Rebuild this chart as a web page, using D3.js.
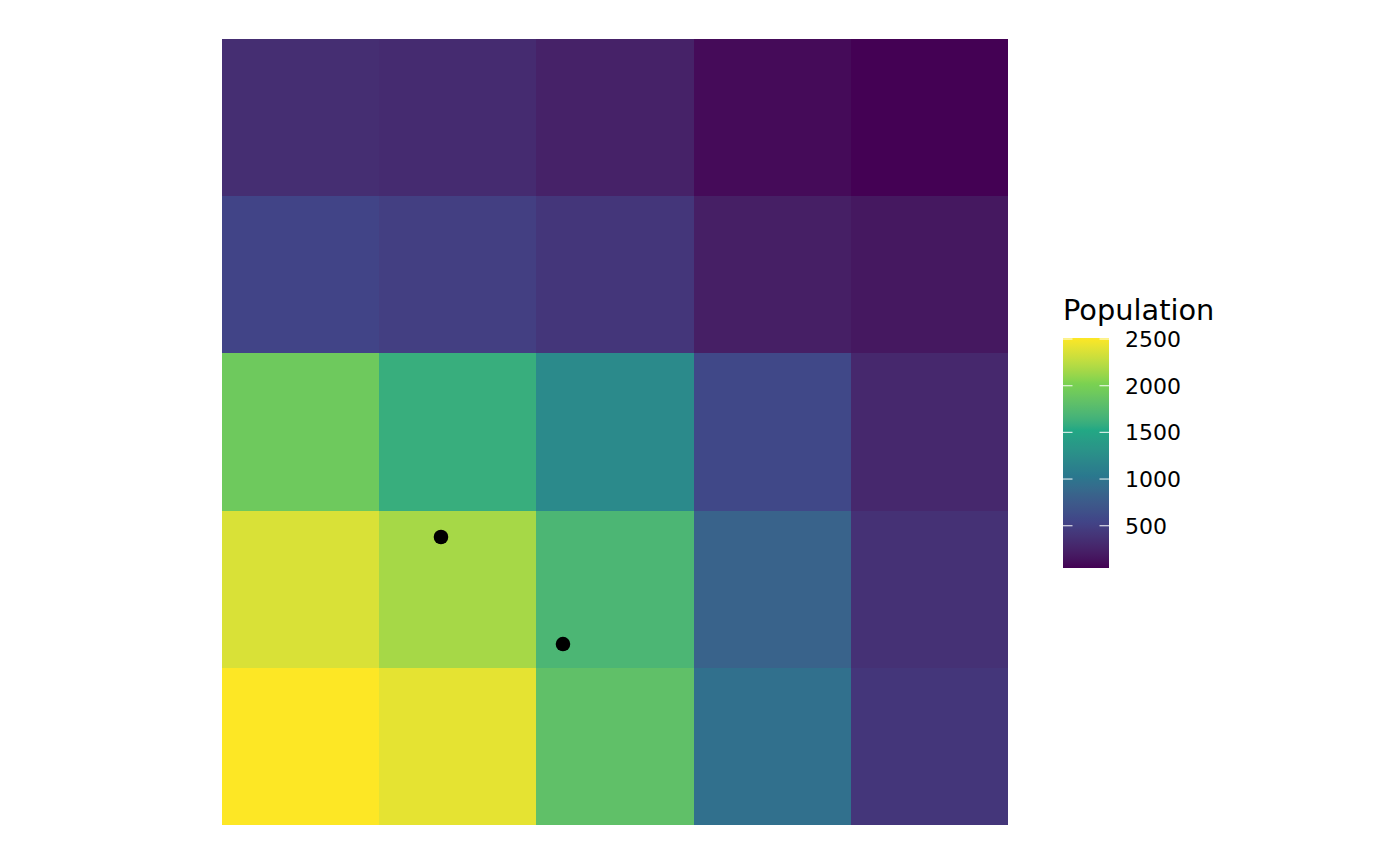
<!DOCTYPE html>
<html>
<head>
<meta charset="utf-8">
<script src="https://cdn.jsdelivr.net/npm/d3@7/dist/d3.min.js"></script>
<style>
html,body{margin:0;padding:0;background:#fff;}
svg{display:block;}
text{font-family:"DejaVu Sans",sans-serif;}
</style>
</head>
<body>
<svg id="chart" width="1400" height="865"></svg>
<script>
// Grid columns (x) and rows (y, 1 = bottom)
const xCats = [1, 2, 3, 4, 5];
const yCats = [1, 2, 3, 4, 5];
// Population values, one row per y (bottom to top), columns left to right
const row1 = [2511, 2412, 1821, 959, 417];
const row2 = [2363, 2166, 1698, 835, 367];
const row3 = [1920, 1600, 1217, 580, 293];
const row4 = [540, 490, 417, 220, 170];
const row5 = [343, 318, 244, 96, 47];
const rows = [row1, row2, row3, row4, row5];
// Point locations (in grid units)
const pointX = [1.893, 2.669];
const pointY = [2.332, 1.651];
// Legend ticks
const legendTicks = [500, 1000, 1500, 2000, 2500];
const legendTitle = "Population";
// Viridis anchor colours (6 stops, interpolated in Lab like ggplot)
const viridisStops = ["#440154", "#414487", "#2A788E", "#22A884", "#7AD151", "#FDE725"];

const cells = [];
yCats.forEach((y, i) => xCats.forEach((x, j) => cells.push({x, y, v: rows[i][j]})));

const svg = d3.select("#chart");
const pLeft = 222, pRight = 1008, pTop = 39, pBottom = 825;

const xScale = d3.scaleLinear().domain([0.5, 5.5]).range([pLeft, pRight]);
const yScale = d3.scaleLinear().domain([0.5, 5.5]).range([pBottom, pTop]);
const vMin = d3.min(cells, d => d.v), vMax = d3.max(cells, d => d.v);
const interp = d3.piecewise(d3.interpolateLab, viridisStops);
const color = d3.scaleSequential(interp).domain([vMin, vMax]);

svg.append("g").selectAll("rect").data(cells).join("rect")
  .attr("x", d => xScale(d.x - 0.5))
  .attr("y", d => yScale(d.y + 0.5))
  .attr("width", d => xScale(d.x + 0.5) - xScale(d.x - 0.5))
  .attr("height", d => yScale(d.y - 0.5) - yScale(d.y + 0.5))
  .attr("fill", d => color(d.v))
  .attr("shape-rendering", "crispEdges");

svg.append("g").selectAll("circle").data(pointX.map((x, i) => ({x, y: pointY[i]}))).join("circle")
  .attr("cx", d => xScale(d.x))
  .attr("cy", d => yScale(d.y))
  .attr("r", 7.3)
  .attr("fill", "#000");

// Legend
const lx = 1063, lw = 46, lTop = 338, lBot = 568;
const lScale = d3.scaleLinear().domain([vMin, vMax]).range([lBot, lTop]);
const defs = svg.append("defs");
const grad = defs.append("linearGradient").attr("id", "lg")
  .attr("x1", 0).attr("y1", 1).attr("x2", 0).attr("y2", 0);
d3.range(0, 1.0001, 0.02).forEach(t => {
  grad.append("stop").attr("offset", t).attr("stop-color", interp(t));
});
svg.append("rect").attr("x", lx).attr("y", lTop).attr("width", lw).attr("height", lBot - lTop)
  .attr("fill", "url(#lg)");
const tg = svg.append("g");
legendTicks.forEach(t => {
  const y = lScale(t);
  tg.append("line").attr("x1", lx).attr("x2", lx + 9.5).attr("y1", y).attr("y2", y)
    .attr("stroke", "#fff").attr("stroke-opacity", 0.8).attr("stroke-width", 1.2);
  tg.append("line").attr("x1", lx + lw - 9.5).attr("x2", lx + lw).attr("y1", y).attr("y2", y)
    .attr("stroke", "#fff").attr("stroke-opacity", 0.8).attr("stroke-width", 1.2);
  tg.append("text").attr("x", 1125).attr("y", y).attr("dy", "0.36em")
    .attr("font-size", 22).attr("fill", "#000").text(t);
});
svg.append("text").attr("x", 1063).attr("y", 320).attr("font-size", 28.8).attr("fill", "#000").text(legendTitle);
</script>
</body>
</html>
